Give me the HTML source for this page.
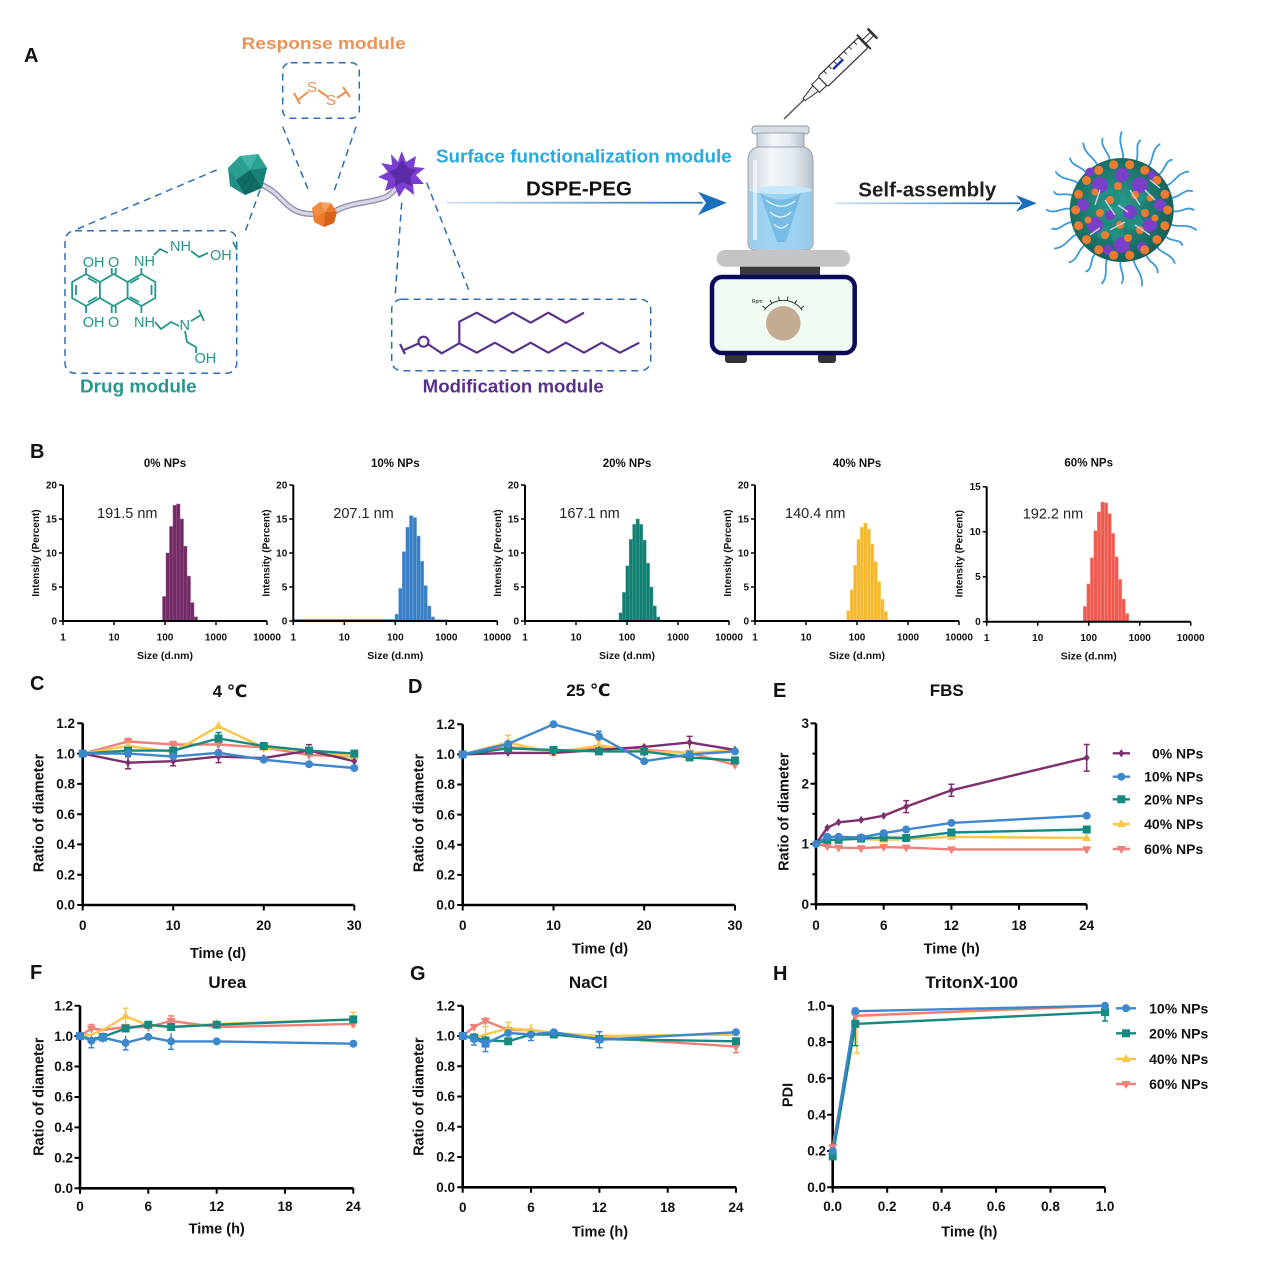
<!DOCTYPE html>
<html><head><meta charset="utf-8"><style>
html,body{margin:0;padding:0;background:#fff;}
svg{display:block;}
text{font-family:"Liberation Sans","DejaVu Sans",Arial,sans-serif;fill:#111;}
.b{font-weight:bold;}
.ax{fill:none;stroke:#000;stroke-width:2.6;}
.axb{fill:none;stroke:#000;stroke-width:2;}
.tk{stroke:#000;stroke-width:2;fill:none;}
.tkb{stroke:#000;stroke-width:1.5;fill:none;}
.ls{fill:none;stroke-width:2.4;stroke-linejoin:round;}
.s0{stroke:#7e2f6e}.s1{stroke:#3d87cc}.s2{stroke:#168a80}.s3{stroke:#f9c84a}.s4{stroke:#f08078}
.e{fill:none;stroke-width:1.5;}
.dash{fill:none;stroke:#2c6fb5;stroke-width:1.5;stroke-dasharray:7 5;}
.mol{fill:none;stroke:#22968a;stroke-width:1.8;stroke-linejoin:round;}
.mod{fill:none;stroke:#58318a;stroke-width:2.2;stroke-linejoin:round;}
</style></head><body>
<svg width="1268" height="1269" viewBox="0 0 1268 1269" xmlns="http://www.w3.org/2000/svg">
<defs>
<circle id="mc" r="4"/>
<rect id="ms" x="-4" y="-4" width="8" height="8"/>
<path id="mt" d="M0,-5 L4.6,3 L-4.6,3Z"/>
<path id="mv" d="M0,5 L4.6,-3 L-4.6,-3Z"/>
<path id="md" d="M0,-4 L3,0 L0,4 L-3,0Z"/>
<linearGradient id="ag" x1="0" x2="1" y1="0" y2="0"><stop offset="0" stop-color="#cfe2f2"/><stop offset="1" stop-color="#1a6fb8"/></linearGradient>
<linearGradient id="glass" x1="0" x2="1"><stop offset="0" stop-color="#c9d1da"/><stop offset=".35" stop-color="#f4f7fa"/><stop offset=".7" stop-color="#e3e9ef"/><stop offset="1" stop-color="#b7c1cc"/></linearGradient>
<radialGradient id="core" cx=".45" cy=".45" r=".6"><stop offset="0" stop-color="#2a9e90"/><stop offset="1" stop-color="#135c54"/></radialGradient>
</defs>
<rect width="1268" height="1269" fill="#fff"/>

<!-- ================= PANEL A ================= -->
<text x="24" y="62" class="b" font-size="20">A</text>
<text x="241.7" y="49" class="b" font-size="17" textLength="164" lengthAdjust="spacingAndGlyphs" style="fill:#ee9254">Response module</text>
<rect x="282.7" y="62.7" width="76.6" height="55.6" rx="8" class="dash"/>
<path d="M294,93 L300,104 M298,100 L308,92 M318,90 L328,97 M337,98 L346,92 M343,87 L350,97" stroke="#ee8f4c" stroke-width="2" fill="none"/>
<text x="307" y="92" font-size="15" style="fill:#ee8f4c">S</text>
<text x="326" y="105" font-size="15" style="fill:#ee8f4c">S</text>
<path d="M282.7,126.7 L308.3,190 M356,126.7 L333.3,193.3" class="dash"/>
<path d="M216.7,170 L75,230 M260,190 L245,232" class="dash"/>
<path d="M401.7,202.7 L395,298 M426.7,182.7 L470,293.3" class="dash"/>
<rect x="65" y="230.7" width="171.7" height="142.6" rx="10" class="dash"/>
<rect x="391.7" y="299.3" width="259" height="71.4" rx="10" class="dash"/>
<path d="M262,185 C285,195 285,214 312,214 M335,211 C355,201 368,204 386,197 C392,194 395,189 398,186" stroke="#8e8ea6" stroke-width="6" fill="none" stroke-linecap="round"/>
<path d="M262,185 C285,195 285,214 312,214 M335,211 C355,201 368,204 386,197 C392,194 395,189 398,186" stroke="#d6d6e6" stroke-width="3.4" fill="none" stroke-linecap="round"/>
<polygon points="228,168 240,156 258,154 267,168 262,188 245,195 230,186" fill="#1e8f84"/>
<polygon points="240,156 258,154 250,170" fill="#40b3a6"/>
<polygon points="258,154 267,168 250,170" fill="#2aa194"/>
<polygon points="228,168 240,156 250,170 236,180" fill="#2c9d91"/>
<polygon points="250,170 267,168 262,188" fill="#178277"/>
<polygon points="236,180 250,170 262,188 245,195" fill="#126b62"/>
<polygon points="312,208 320,202 331,203 337,212 334,223 324,227 314,222" fill="#ef7a2c"/>
<polygon points="320,202 331,203 325,212" fill="#f6a466"/>
<polygon points="312,208 320,202 325,212 316,217" fill="#f28b43"/>
<polygon points="325,212 337,212 334,223 324,227" fill="#d6621b"/>
<polygon points="401.7,151 406,162 416,156 414,167 425,168 416,175 424,184 413,184 414,195 405,188 399,197 395,187 385,191 388,181 378,177 388,172 381,163 392,165 391,154 398,162" fill="#7a3fd0"/>
<polygon points="401.7,160 408,168 416,170 410,177 412,186 403,182 395,186 395,178 389,172 397,168" fill="#5a2aa8"/>
<path class="mol" d="M86,274 L99.9,282 L99.9,298 L86,306 L72.1,298 L72.1,282 Z M99.9,282 L113.7,274 L127.6,282 L127.6,298 L113.7,306 L99.9,298 M127.6,282 L141.4,274 L155.3,282 L155.3,298 L141.4,306 L127.6,298"/>
<path class="mol" d="M76,285 L76,295 M151.5,285 L151.5,295 M88,278 L97,283 M88,302 L97,297 M130,283 L139,278 M130,297 L139,302"/>
<path class="mol" d="M86,274 V268 M111.7,274 V268 M115.7,274 V268 M141.4,274 V268 M86,306 V313 M111.7,306 V313 M115.7,306 V313 M141.4,306 V313"/>
<path class="mol" d="M154,255 L160,249 L168,253 M191,251 L199,257 L208,253 M155,322 L161,329 L171,322 L179,326 M191,321 L201,315 M199,310 L204,321 M185,331 L187,342 L196,347 V353 M233,242 L237,250"/>
<text x="82.7" y="267" font-size="14.5" style="fill:#22968a">OH</text>
<text x="108" y="267" font-size="14.5" style="fill:#22968a">O</text>
<text x="134" y="266" font-size="14.5" style="fill:#22968a">NH</text>
<text x="170" y="251" font-size="14.5" style="fill:#22968a">NH</text>
<text x="210" y="260" font-size="14.5" style="fill:#22968a">OH</text>
<text x="82.7" y="327" font-size="14.5" style="fill:#22968a">OH</text>
<text x="108" y="327" font-size="14.5" style="fill:#22968a">O</text>
<text x="134" y="327" font-size="14.5" style="fill:#22968a">NH</text>
<text x="179.5" y="330" font-size="14.5" style="fill:#22968a">N</text>
<text x="194.5" y="363" font-size="14.5" style="fill:#22968a">OH</text>
<text x="80" y="392.5" class="b" font-size="18" textLength="116.7" lengthAdjust="spacingAndGlyphs" style="fill:#25998c">Drug module</text>
<path class="mod" d="M400,344 L405,354 M404,350 L418.5,343.5 M428.5,344.5 L441.7,353.3 L459.3,343.3 L459.3,321.7 L476.7,312.7 L495,322.7 L512.7,312.7 L530.7,322.7 L548.3,312.7 L566,322.7 L584,312.7 M459.3,343.3 L476.7,352.7 L495,342.7 L512.7,352.7 L530.7,342.7 L548.3,352.7 L566,342.7 L584,352.7 L601.7,342.7 L620,352.7 L639.3,342.7"/>
<circle cx="423.5" cy="341.7" r="5" class="mod"/>
<text x="422.7" y="392.5" class="b" font-size="18" textLength="181" lengthAdjust="spacingAndGlyphs" style="fill:#58318a">Modification module</text>
<text x="436" y="162.5" class="b" font-size="18" textLength="295.7" lengthAdjust="spacingAndGlyphs" style="fill:#27a9e1">Surface functionalization module</text>
<text x="526" y="195.5" class="b" font-size="20" textLength="106" lengthAdjust="spacingAndGlyphs">DSPE-PEG</text>
<rect x="446.7" y="201.8" width="256" height="1.8" fill="url(#ag)"/>
<path d="M726.7,202.7 L698,191.7 L706,202.7 L698,215 Z" fill="#1a6fb8"/>
<g transform="translate(784,119) rotate(-44)">
<line x1="0" y1="0" x2="28" y2="0" stroke="#666" stroke-width="1.6"/>
<path d="M28,-1.5 L44,-4 L44,4 L28,1.5Z" fill="#f4f4f4" stroke="#333" stroke-width="1"/>
<rect x="44" y="-5.5" width="10" height="11" fill="#fff" stroke="#333" stroke-width="1"/>
<rect x="54" y="-7" width="56" height="14" rx="2" fill="#fff" stroke="#333" stroke-width="1.2"/>
<path d="M62,-7 V-3 M69,-7 V-3 M76,-7 V-3 M83,-7 V-3 M90,-7 V-3 M97,-7 V-3 M104,-7 V-3" stroke="#333" stroke-width="1"/>
<rect x="70" y="-3" width="14" height="2.5" fill="#1c2fc0"/>
<rect x="110" y="-2.5" width="12" height="5" fill="#fff" stroke="#333" stroke-width="1"/>
<line x1="111" y1="-10" x2="111" y2="10" stroke="#333" stroke-width="2"/>
<line x1="123" y1="-7" x2="123" y2="7" stroke="#333" stroke-width="2.5"/>
</g>
<rect x="752" y="126" width="57" height="8" rx="3" fill="#d8dde3" stroke="#8f98a3"/>
<rect x="757" y="133" width="47" height="14" fill="url(#glass)" stroke="#9aa3ad"/>
<path d="M757,147 Q748,150 748,160 V243 Q748,250 756,250 H805 Q813,250 813,243 V160 Q813,150 804,147 Z" fill="url(#glass)" stroke="#9aa3ad"/>
<path d="M749,190 V243 Q749,249 756,249 H805 Q812,249 812,243 V190 Z" fill="#8fcdf0" opacity=".85"/>
<ellipse cx="780.5" cy="190" rx="31.5" ry="4" fill="#c6e8f8"/>
<path d="M760,193 Q780,206 801,193 L786,242 L777,242 Z" fill="#5aa9dc" opacity=".55"/>
<path d="M766,200 Q781,212 795,201 M770,212 Q781,222 791,212 M774,224 Q781,232 788,224" stroke="#e8f6ff" stroke-width="1.3" fill="none"/>
<rect x="753" y="160" width="4" height="80" fill="#fff" opacity=".6"/>
<rect x="716.7" y="250" width="133.3" height="16.7" rx="8" fill="#c4c4c4"/>
<rect x="740" y="266.7" width="80" height="8.3" fill="#3a3a3a"/>
<rect x="725" y="352" width="22" height="11" rx="3" fill="#333"/>
<rect x="818" y="352" width="18" height="11" rx="3" fill="#333"/>
<rect x="712" y="277" width="142.7" height="76" rx="10" fill="#f1fbf1" stroke="#0a0a5a" stroke-width="4.5"/>
<circle cx="783.3" cy="323.3" r="17.3" fill="#c4ac94"/>
<path d="M764.5,310.1 A23,23 0 0 1 802.1,310.1" stroke="#222" stroke-width=".9" fill="none"/>
<path d="M765.7,308.5 L762.6,306 M771.8,303.4 L769.8,300 M779.3,300.7 L778.6,296.7 M787.3,300.7 L788,296.7 M794.8,303.4 L796.8,300 M800.9,308.5 L804,306" stroke="#222" stroke-width=".9"/>
<text x="752" y="303" font-size="5">Rpm</text>
<text x="858.3" y="196.3" class="b" font-size="20" textLength="138" lengthAdjust="spacingAndGlyphs" style="fill:#231f20">Self-assembly</text>
<rect x="835" y="202.4" width="185" height="1.8" fill="url(#ag)"/>
<path d="M1036.7,203.3 L1016,195 L1022,203.3 L1016,211.7 Z" fill="#1a6fb8"/>
<!-- nanoparticle -->
<g fill="none" stroke="#3a9ad9" stroke-width="1.8" stroke-linecap="round">
<path d="M1169.7,210 C1178.7,215 1186.7,205 1193.7,210"/>
<path d="M1168.1,222.4 C1175.5,229.6 1185.8,222 1196.1,229.9"/>
<path d="M1163.3,234 C1168.6,242.8 1180.5,238.2 1182.3,245"/>
<path d="M1155.6,243.9 C1158.5,253.8 1171.2,252.5 1174.7,263"/>
<path d="M1145.7,251.6 C1145.9,261.9 1158.5,263.8 1157.7,272.4"/>
<path d="M1134.1,256.4 C1131.7,266.4 1143.3,271.5 1141.9,285.3"/>
<path d="M1121.7,258 C1116.7,267 1126.7,275 1121.7,283"/>
<path d="M1109.3,256.4 C1102.1,263.8 1109.7,274.1 1102,283.4"/>
<path d="M1097.7,251.6 C1088.9,256.9 1093.5,268.8 1086.2,271.5"/>
<path d="M1087.8,243.9 C1077.9,246.8 1079.2,259.5 1069.4,262.3"/>
<path d="M1080.1,234 C1069.8,234.2 1067.9,246.8 1055,248.5"/>
<path d="M1075.3,222.4 C1065.3,220 1060.2,231.6 1052.1,228.6"/>
<path d="M1073.7,210 C1064.7,205 1056.7,215 1046.7,210"/>
<path d="M1075.3,197.6 C1067.9,190.4 1057.6,198 1054.1,191.9"/>
<path d="M1080.1,186 C1074.8,177.2 1062.9,181.8 1055.9,172"/>
<path d="M1087.8,176.1 C1084.9,166.2 1072.2,167.5 1070.1,158.4"/>
<path d="M1097.7,168.4 C1097.5,158.1 1084.9,156.2 1083.2,143.3"/>
<path d="M1109.3,163.6 C1111.7,153.6 1100.1,148.5 1102.5,138.5"/>
<path d="M1121.7,162 C1126.7,153 1116.7,145 1121.7,132"/>
<path d="M1134.1,163.6 C1141.3,156.2 1133.7,145.9 1140.3,140.4"/>
<path d="M1145.7,168.4 C1154.5,163.1 1149.9,151.2 1159.7,144.2"/>
<path d="M1155.6,176.1 C1165.5,173.2 1164.2,160.5 1171.9,159.8"/>
<path d="M1163.3,186 C1173.6,185.8 1175.5,173.2 1188.4,171.5"/>
<path d="M1168.1,197.6 C1178.1,200 1183.2,188.4 1192.2,191.1"/>
</g>
<circle cx="1121.7" cy="210" r="52" fill="url(#core)"/>
<g fill="#1f8f82">
<polygon points="1105,195 1115,190 1122,198 1116,208 1106,206"/>
<polygon points="1128,218 1138,214 1144,222 1138,231 1128,228"/>
<polygon points="1098,228 1108,224 1113,233 1106,240 1097,237"/>
<polygon points="1135,188 1145,186 1150,195 1143,202 1134,199"/>
<polygon points="1112,232 1120,229 1126,236 1120,243 1112,240"/>
</g>
<g fill="#7a3fc8">
<circle cx="1100" cy="185" r="8"/><circle cx="1140" cy="185" r="8"/><circle cx="1095" cy="225" r="8"/><circle cx="1150" cy="225" r="7"/><circle cx="1122" cy="245" r="8"/><circle cx="1122" cy="175" r="7"/><circle cx="1083" cy="205" r="6"/><circle cx="1160" cy="205" r="6"/><circle cx="1130" cy="212" r="7"/><circle cx="1108" cy="250" r="5"/><circle cx="1142" cy="247" r="5"/><circle cx="1110" cy="215" r="5"/><circle cx="1152" cy="175" r="4.5"/><circle cx="1090" cy="172" r="4.5"/>
</g>
<g fill="#f07a30">
<circle cx="1167.7" cy="210" r="4.5"/><circle cx="1164.9" cy="225.7" r="4.5"/><circle cx="1156.9" cy="239.6" r="4.5"/><circle cx="1144.7" cy="249.8" r="4.5"/><circle cx="1129.7" cy="255.3" r="4.5"/><circle cx="1113.7" cy="255.3" r="4.5"/><circle cx="1098.7" cy="249.8" r="4.5"/><circle cx="1086.5" cy="239.6" r="4.5"/><circle cx="1078.5" cy="225.7" r="4.5"/><circle cx="1075.7" cy="210" r="4.5"/><circle cx="1078.5" cy="194.3" r="4.5"/><circle cx="1086.5" cy="180.4" r="4.5"/><circle cx="1098.7" cy="170.2" r="4.5"/><circle cx="1113.7" cy="164.7" r="4.5"/><circle cx="1129.7" cy="164.7" r="4.5"/><circle cx="1144.7" cy="170.2" r="4.5"/><circle cx="1156.9" cy="180.4" r="4.5"/><circle cx="1164.9" cy="194.3" r="4.5"/>
<circle cx="1110" cy="200" r="4"/><circle cx="1135" cy="195" r="4"/><circle cx="1120" cy="225" r="4"/><circle cx="1100" cy="213" r="4"/><circle cx="1145" cy="213" r="4"/><circle cx="1128" cy="238" r="4"/><circle cx="1105" cy="235" r="4"/><circle cx="1140" cy="230" r="4"/><circle cx="1118" cy="186" r="4"/><circle cx="1095" cy="192" r="3.5"/><circle cx="1150" cy="198" r="3.5"/><circle cx="1088" cy="220" r="3.5"/><circle cx="1155" cy="218" r="3.5"/>
</g>
<path d="M1105,200 L1115,215 M1130,190 L1140,205 M1110,230 L1125,222 M1135,225 L1150,235 M1095,205 L1100,190 M1145,190 L1155,200 M1118,205 L1128,212 M1090,235 L1100,228 M1150,180 L1160,188" stroke="#cfcfe0" stroke-width="1.4"/>

<!-- ================= PANEL B ================= -->
<text x="30" y="458" class="b" font-size="20">B</text>
<g transform="translate(63,621)">
<text x="102" y="-154" class="b" font-size="11.5" text-anchor="middle">0% NPs</text>
<g fill="#722a66" stroke="#9a5a8e" stroke-width=".5">
<rect x="99.5" y="-24.5" width="3.5" height="24.5"/><rect x="103" y="-68" width="3.5" height="68"/><rect x="106.5" y="-94.5" width="3.5" height="94.5"/><rect x="110" y="-115.6" width="3.5" height="115.6"/><rect x="113.5" y="-117" width="3.5" height="117"/><rect x="117" y="-102" width="3.5" height="102"/><rect x="120.5" y="-74.8" width="3.5" height="74.8"/><rect x="124" y="-44.9" width="3.5" height="44.9"/><rect x="127.5" y="-18.4" width="3.5" height="18.4"/><rect x="131" y="-4.1" width="3.5" height="4.1"/>
</g>
<path d="M0,-136 V0 H204" class="axb"/>
<path d="M-4,-136H0M-4,-102H0M-4,-68H0M-4,-34H0M-4,0H0M0,0V4M51,0V4M102,0V4M153,0V4M204,0V4" class="tkb"/>
<g class="b" font-size="10" text-anchor="end"><text x="-6" y="-132.5">20</text><text x="-6" y="-98.5">15</text><text x="-6" y="-64.5">10</text><text x="-6" y="-30.5">5</text><text x="-6" y="3.5">0</text></g>
<g class="b" font-size="10" text-anchor="middle"><text x="0" y="19.5">1</text><text x="51" y="19.5">10</text><text x="102" y="19.5">100</text><text x="153" y="19.5">1000</text><text x="204" y="19.5">10000</text></g>
<text x="102" y="38" class="b" font-size="10.5" text-anchor="middle">Size (d.nm)</text>
<text transform="translate(-24,-68) rotate(-90)" class="b" font-size="10" text-anchor="middle">Intensity (Percent)</text>
<text x="34" y="-103" font-size="14.5" style="fill:#222">191.5 nm</text>
</g>
<g transform="translate(293.3,621)">
<text x="102" y="-154" class="b" font-size="11.5" text-anchor="middle">10% NPs</text>
<rect x="0" y="-1.8" width="102" height="1.8" fill="#3a7fc5"/>
<rect x="141" y="-1.4" width="14" height="1.4" fill="#3a7fc5"/>
<g fill="#3a7fc5" stroke="#7fb0e0" stroke-width=".5">
<rect x="101.7" y="-6.8" width="3.6" height="6.8"/><rect x="105.3" y="-32.6" width="3.6" height="32.6"/><rect x="108.9" y="-69.4" width="3.6" height="69.4"/><rect x="112.5" y="-93.8" width="3.6" height="93.8"/><rect x="116.1" y="-105.4" width="3.6" height="105.4"/><rect x="119.7" y="-103.4" width="3.6" height="103.4"/><rect x="123.3" y="-85" width="3.6" height="85"/><rect x="126.9" y="-59.8" width="3.6" height="59.8"/><rect x="130.5" y="-35.4" width="3.6" height="35.4"/><rect x="134.1" y="-15" width="3.6" height="15"/><rect x="137.7" y="-4.1" width="3.6" height="4.1"/>
</g>
<path d="M0,-136 V0 H204" class="axb"/>
<path d="M-4,-136H0M-4,-102H0M-4,-68H0M-4,-34H0M-4,0H0M0,0V4M51,0V4M102,0V4M153,0V4M204,0V4" class="tkb"/>
<g class="b" font-size="10" text-anchor="end"><text x="-6" y="-132.5">20</text><text x="-6" y="-98.5">15</text><text x="-6" y="-64.5">10</text><text x="-6" y="-30.5">5</text><text x="-6" y="3.5">0</text></g>
<g class="b" font-size="10" text-anchor="middle"><text x="0" y="19.5">1</text><text x="51" y="19.5">10</text><text x="102" y="19.5">100</text><text x="153" y="19.5">1000</text><text x="204" y="19.5">10000</text></g>
<text x="102" y="38" class="b" font-size="10.5" text-anchor="middle">Size (d.nm)</text>
<text transform="translate(-24,-68) rotate(-90)" class="b" font-size="10" text-anchor="middle">Intensity (Percent)</text>
<text x="40" y="-103" font-size="14.5" style="fill:#222">207.1 nm</text>
</g>
<g transform="translate(525,621)">
<text x="102" y="-154" class="b" font-size="11.5" text-anchor="middle">20% NPs</text>
<g fill="#137d72" stroke="#4aa89d" stroke-width=".5">
<rect x="94" y="-8.2" width="3.4" height="8.2"/><rect x="97.4" y="-28.6" width="3.4" height="28.6"/><rect x="100.8" y="-55.1" width="3.4" height="55.1"/><rect x="104.2" y="-81.6" width="3.4" height="81.6"/><rect x="107.6" y="-96.6" width="3.4" height="96.6"/><rect x="111" y="-102" width="3.4" height="102"/><rect x="114.4" y="-96.6" width="3.4" height="96.6"/><rect x="117.8" y="-80.9" width="3.4" height="80.9"/><rect x="121.2" y="-57.8" width="3.4" height="57.8"/><rect x="124.6" y="-34" width="3.4" height="34"/><rect x="128" y="-15" width="3.4" height="15"/><rect x="131.4" y="-4.1" width="3.4" height="4.1"/>
</g>
<path d="M0,-136 V0 H204" class="axb"/>
<path d="M-4,-136H0M-4,-102H0M-4,-68H0M-4,-34H0M-4,0H0M0,0V4M51,0V4M102,0V4M153,0V4M204,0V4" class="tkb"/>
<g class="b" font-size="10" text-anchor="end"><text x="-6" y="-132.5">20</text><text x="-6" y="-98.5">15</text><text x="-6" y="-64.5">10</text><text x="-6" y="-30.5">5</text><text x="-6" y="3.5">0</text></g>
<g class="b" font-size="10" text-anchor="middle"><text x="0" y="19.5">1</text><text x="51" y="19.5">10</text><text x="102" y="19.5">100</text><text x="153" y="19.5">1000</text><text x="204" y="19.5">10000</text></g>
<text x="102" y="38" class="b" font-size="10.5" text-anchor="middle">Size (d.nm)</text>
<text transform="translate(-24,-68) rotate(-90)" class="b" font-size="10" text-anchor="middle">Intensity (Percent)</text>
<text x="34.3" y="-103" font-size="14.5" style="fill:#222">167.1 nm</text>
</g>
<g transform="translate(755,621)">
<text x="102" y="-154" class="b" font-size="11.5" text-anchor="middle">40% NPs</text>
<g fill="#f5b82a" stroke="#fad37a" stroke-width=".6">
<rect x="91.7" y="-10.2" width="3.4" height="10.2"/><rect x="95.1" y="-31.3" width="3.4" height="31.3"/><rect x="98.5" y="-55.8" width="3.4" height="55.8"/><rect x="101.9" y="-81.6" width="3.4" height="81.6"/><rect x="105.3" y="-93.8" width="3.4" height="93.8"/><rect x="108.7" y="-97.9" width="3.4" height="97.9"/><rect x="112.1" y="-91.8" width="3.4" height="91.8"/><rect x="115.5" y="-76.8" width="3.4" height="76.8"/><rect x="118.9" y="-59.2" width="3.4" height="59.2"/><rect x="122.3" y="-39.4" width="3.4" height="39.4"/><rect x="125.7" y="-21.8" width="3.4" height="21.8"/><rect x="129.1" y="-9.5" width="3.4" height="9.5"/><rect x="132.5" y="-1.4" width="3.4" height="1.4"/>
</g>
<path d="M0,-136 V0 H204" class="axb"/>
<path d="M-4,-136H0M-4,-102H0M-4,-68H0M-4,-34H0M-4,0H0M0,0V4M51,0V4M102,0V4M153,0V4M204,0V4" class="tkb"/>
<g class="b" font-size="10" text-anchor="end"><text x="-6" y="-132.5">20</text><text x="-6" y="-98.5">15</text><text x="-6" y="-64.5">10</text><text x="-6" y="-30.5">5</text><text x="-6" y="3.5">0</text></g>
<g class="b" font-size="10" text-anchor="middle"><text x="0" y="19.5">1</text><text x="51" y="19.5">10</text><text x="102" y="19.5">100</text><text x="153" y="19.5">1000</text><text x="204" y="19.5">10000</text></g>
<text x="102" y="38" class="b" font-size="10.5" text-anchor="middle">Size (d.nm)</text>
<text transform="translate(-24,-68) rotate(-90)" class="b" font-size="10" text-anchor="middle">Intensity (Percent)</text>
<text x="30" y="-103" font-size="14.5" style="fill:#222">140.4 nm</text>
</g>
<g transform="translate(986.7,621.7)">
<text x="102" y="-155" class="b" font-size="11.5" text-anchor="middle">60% NPs</text>
<g fill="#ef5a4f" stroke="#f69a92" stroke-width=".6">
<rect x="96.6" y="-15.3" width="3.5" height="15.3"/><rect x="100.1" y="-37.8" width="3.5" height="37.8"/><rect x="103.6" y="-63.9" width="3.5" height="63.9"/><rect x="107.1" y="-90.9" width="3.5" height="90.9"/><rect x="110.6" y="-109.8" width="3.5" height="109.8"/><rect x="114.1" y="-119.7" width="3.5" height="119.7"/><rect x="117.6" y="-118.8" width="3.5" height="118.8"/><rect x="121.1" y="-108" width="3.5" height="108"/><rect x="124.6" y="-88.2" width="3.5" height="88.2"/><rect x="128.1" y="-64.8" width="3.5" height="64.8"/><rect x="131.6" y="-42.3" width="3.5" height="42.3"/><rect x="135.1" y="-22.5" width="3.5" height="22.5"/><rect x="138.6" y="-8.1" width="3.5" height="8.1"/>
</g>
<path d="M0,-135 V0 H204" class="axb"/>
<path d="M-4,-135H0M-4,-90H0M-4,-45H0M-4,0H0M0,0V4M51,0V4M102,0V4M153,0V4M204,0V4" class="tkb"/>
<g class="b" font-size="10" text-anchor="end"><text x="-6" y="-131.5">15</text><text x="-6" y="-86.5">10</text><text x="-6" y="-41.5">5</text><text x="-6" y="3.5">0</text></g>
<g class="b" font-size="10" text-anchor="middle"><text x="0" y="19.5">1</text><text x="51" y="19.5">10</text><text x="102" y="19.5">100</text><text x="153" y="19.5">1000</text><text x="204" y="19.5">10000</text></g>
<text x="102" y="38" class="b" font-size="10.5" text-anchor="middle">Size (d.nm)</text>
<text transform="translate(-24,-68) rotate(-90)" class="b" font-size="10" text-anchor="middle">Intensity (Percent)</text>
<text x="36" y="-103" font-size="14.5" style="fill:#222">192.2 nm</text>
</g>

<!-- ================= PANEL C ================= -->
<text x="30" y="690" class="b" font-size="20">C</text>
<text x="230" y="697" class="b" font-size="17" text-anchor="middle">4 ℃</text>
<path d="M82.7,723.3 V905 H354.3" class="ax"/>
<path d="M77.2,723.3H82.7M77.2,753.6H82.7M77.2,783.9H82.7M77.2,814.2H82.7M77.2,844.4H82.7M77.2,874.7H82.7M77.2,905H82.7M82.7,905V910.5M173.2,905V910.5M263.8,905V910.5M354.3,905V910.5" class="tk"/>
<g class="b" font-size="13.5" text-anchor="end"><text x="75" y="728">1.2</text><text x="75" y="758.3">1.0</text><text x="75" y="788.6">0.8</text><text x="75" y="818.9">0.6</text><text x="75" y="849.1">0.4</text><text x="75" y="879.4">0.2</text><text x="75" y="909.7">0.0</text></g>
<g class="b" font-size="13.5" text-anchor="middle"><text x="82.7" y="930">0</text><text x="173.2" y="930">10</text><text x="263.8" y="930">20</text><text x="354.3" y="930">30</text></g>
<text x="218" y="958" class="b" font-size="14.5" text-anchor="middle">Time (d)</text>
<text transform="translate(43.5,813) rotate(-90)" class="b" font-size="14.5" text-anchor="middle">Ratio of diameter</text>
<path class="e s0" d="M128,756.7V768.7M125,756.7h6M125,768.7h6M173.2,756.7V765.7M170.2,756.7h6M170.2,765.7h6M218.5,750.6V762.6M215.5,762.6h6M309,744.6V756.6M306,744.6h6"/>
<path class="e s2" d="M218.5,732.5V744.5M215.5,732.5h6"/>
<path class="e s4" d="M128,738.5V744.5M125,738.5h6M173.2,741.5V747.5M170.2,741.5h6"/>
<polyline class="ls s4" points="82.7,753.6 128,741.5 173.2,744.5 218.5,744.5 263.8,747.5 309,755.1 354.3,756.6"/>
<polyline class="ls s3" points="82.7,753.6 128,746 173.2,752.1 218.5,726.3 263.8,747.5 309,750.6 354.3,756.6"/>
<polyline class="ls s0" points="82.7,753.6 128,762.7 173.2,761.2 218.5,756.6 263.8,758.1 309,750.6 354.3,761.2"/>
<polyline class="ls s2" points="82.7,753.6 128,750.6 173.2,750.6 218.5,738.5 263.8,746 309,750.6 354.3,753.6"/>
<polyline class="ls s1" points="82.7,753.6 128,753.6 173.2,756.6 218.5,752.8 263.8,759.7 309,764.2 354.3,768"/>
<g fill="#f08078"><use href="#mv" x="128" y="741.5"/><use href="#mv" x="173.2" y="744.5"/><use href="#mv" x="218.5" y="744.5"/><use href="#mv" x="263.8" y="747.5"/><use href="#mv" x="309" y="755.1"/><use href="#mv" x="354.3" y="756.6"/></g>
<g fill="#f9c84a"><use href="#mt" x="128" y="746"/><use href="#mt" x="173.2" y="752.1"/><use href="#mt" x="218.5" y="726.3"/><use href="#mt" x="263.8" y="747.5"/><use href="#mt" x="309" y="750.6"/><use href="#mt" x="354.3" y="756.6"/></g>
<g fill="#7e2f6e"><use href="#md" x="128" y="762.7"/><use href="#md" x="173.2" y="761.2"/><use href="#md" x="218.5" y="756.6"/><use href="#md" x="263.8" y="758.1"/><use href="#md" x="309" y="750.6"/><use href="#md" x="354.3" y="761.2"/></g>
<g fill="#168a80"><use href="#ms" x="128" y="750.6"/><use href="#ms" x="173.2" y="750.6"/><use href="#ms" x="218.5" y="738.5"/><use href="#ms" x="263.8" y="746"/><use href="#ms" x="309" y="750.6"/><use href="#ms" x="354.3" y="753.6"/></g>
<g fill="#3d87cc"><use href="#ms" x="82.7" y="753.6"/><use href="#mc" x="128" y="753.6"/><use href="#mc" x="173.2" y="756.6"/><use href="#mc" x="218.5" y="752.8"/><use href="#mc" x="263.8" y="759.7"/><use href="#mc" x="309" y="764.2"/><use href="#mc" x="354.3" y="768"/></g>

<!-- ================= PANEL D ================= -->
<text x="408" y="693" class="b" font-size="20">D</text>
<text x="588.3" y="696" class="b" font-size="17" text-anchor="middle">25 ℃</text>
<path d="M462.7,724.3 V905 H735" class="ax"/>
<path d="M457.2,724.3H462.7M457.2,754.4H462.7M457.2,784.5H462.7M457.2,814.6H462.7M457.2,844.8H462.7M457.2,874.9H462.7M457.2,905H462.7M462.7,905V910.5M553.5,905V910.5M644.2,905V910.5M735,905V910.5" class="tk"/>
<g class="b" font-size="13.5" text-anchor="end"><text x="455" y="729">1.2</text><text x="455" y="759.1">1.0</text><text x="455" y="789.2">0.8</text><text x="455" y="819.3">0.6</text><text x="455" y="849.5">0.4</text><text x="455" y="879.6">0.2</text><text x="455" y="909.7">0.0</text></g>
<g class="b" font-size="13.5" text-anchor="middle"><text x="462.7" y="930">0</text><text x="553.5" y="930">10</text><text x="644.2" y="930">20</text><text x="735" y="930">30</text></g>
<text x="600" y="953.5" class="b" font-size="14.5" text-anchor="middle">Time (d)</text>
<text transform="translate(423.5,813) rotate(-90)" class="b" font-size="14.5" text-anchor="middle">Ratio of diameter</text>
<path class="e s0" d="M689.6,736.4V748.4M686.6,736.4h6"/>
<path class="e s3" d="M508.1,735.4V749.4M505.1,735.4h6M598.9,740.4V750.4M595.9,740.4h6"/>
<path class="e s1" d="M508.1,739.4V748.4M505.1,748.4h6M598.9,731.3V741.3M595.9,731.3h6M689.6,749.4V759.4"/>
<path class="e s2" d="M644.2,746.4V756.4M641.2,746.4h6"/>
<polyline class="ls s4" points="462.7,754.4 508.1,746.9 553.5,751.4 598.9,748.4 644.2,749.9 689.6,752.9 735,764.9"/>
<polyline class="ls s3" points="462.7,754.4 508.1,742.4 553.5,752.9 598.9,745.4 644.2,751.4 689.6,752.9 735,749.9"/>
<polyline class="ls s0" points="462.7,754.4 508.1,752.9 553.5,752.9 598.9,749.9 644.2,746.9 689.6,742.4 735,749.9"/>
<polyline class="ls s2" points="462.7,754.4 508.1,748.4 553.5,749.9 598.9,751.4 644.2,751.4 689.6,757.4 735,760.4"/>
<polyline class="ls s1" points="462.7,754.4 508.1,743.9 553.5,724.3 598.9,736.3 644.2,761.2 689.6,754.4 735,751.4"/>
<g fill="#f08078"><use href="#mv" x="508.1" y="746.9"/><use href="#mv" x="553.5" y="751.4"/><use href="#mv" x="598.9" y="748.4"/><use href="#mv" x="644.2" y="749.9"/><use href="#mv" x="689.6" y="752.9"/><use href="#mv" x="735" y="764.9"/></g>
<g fill="#f9c84a"><use href="#mt" x="508.1" y="742.4"/><use href="#mt" x="553.5" y="752.9"/><use href="#mt" x="598.9" y="745.4"/><use href="#mt" x="644.2" y="751.4"/><use href="#mt" x="689.6" y="752.9"/><use href="#mt" x="735" y="749.9"/></g>
<g fill="#7e2f6e"><use href="#md" x="508.1" y="752.9"/><use href="#md" x="553.5" y="752.9"/><use href="#md" x="598.9" y="749.9"/><use href="#md" x="644.2" y="746.9"/><use href="#md" x="689.6" y="742.4"/><use href="#md" x="735" y="749.9"/></g>
<g fill="#168a80"><use href="#ms" x="508.1" y="748.4"/><use href="#ms" x="553.5" y="749.9"/><use href="#ms" x="598.9" y="751.4"/><use href="#ms" x="644.2" y="751.4"/><use href="#ms" x="689.6" y="757.4"/><use href="#ms" x="735" y="760.4"/></g>
<g fill="#3d87cc"><use href="#ms" x="462.7" y="754.4"/><use href="#mc" x="508.1" y="743.9"/><use href="#mc" x="553.5" y="724.3"/><use href="#mc" x="598.9" y="736.3"/><use href="#mc" x="644.2" y="761.2"/><use href="#mc" x="689.6" y="754.4"/><use href="#mc" x="735" y="751.4"/></g>

<!-- ================= PANEL E ================= -->
<text x="773" y="697" class="b" font-size="20">E</text>
<text x="946.7" y="696" class="b" font-size="17" text-anchor="middle">FBS</text>
<path d="M816,723.4 V904.3 H1086.7" class="ax"/>
<path d="M810.5,723.4H816M810.5,783.7H816M810.5,844H816M810.5,904.3H816M812.5,753.6H816M812.5,813.9H816M812.5,874.2H816M816,904.3V909.8M883.7,904.3V909.8M951.4,904.3V909.8M1019,904.3V909.8M1086.7,904.3V909.8" class="tk"/>
<g class="b" font-size="13.5" text-anchor="end"><text x="809" y="728.1">3</text><text x="809" y="788.4">2</text><text x="809" y="848.7">1</text><text x="809" y="909">0</text></g>
<g class="b" font-size="13.5" text-anchor="middle"><text x="816" y="930">0</text><text x="883.7" y="930">6</text><text x="951.4" y="930">12</text><text x="1019" y="930">18</text><text x="1086.7" y="930">24</text></g>
<text x="951.7" y="953.5" class="b" font-size="14.5" text-anchor="middle">Time (h)</text>
<text transform="translate(788.5,811.7) rotate(-90)" class="b" font-size="14.5" text-anchor="middle">Ratio of diameter</text>
<path class="e s0" d="M906.2,800.6V812.6M903.2,800.6h6M903.2,812.6h6M951.4,784.3V796.3M948.4,784.3h6M948.4,796.3h6M1086.7,744.5V771.1M1083.7,744.5h6M1083.7,771.1h6"/>
<polyline class="ls s4" points="816,844 827.3,846.4 838.6,847.6 861.1,848.2 883.7,847 906.2,847.6 951.4,849.4 1086.7,849.4"/>
<polyline class="ls s3" points="816,844 827.3,841 838.6,839.2 861.1,839.2 883.7,839.8 906.2,839.2 951.4,836.8 1086.7,838"/>
<polyline class="ls s2" points="816,844 827.3,839.8 838.6,839.8 861.1,838.6 883.7,837.4 906.2,838 951.4,832.5 1086.7,829.5"/>
<polyline class="ls s1" points="816,844 827.3,836.8 838.6,836.8 861.1,837.4 883.7,833.1 906.2,829.5 951.4,822.9 1086.7,815.7"/>
<polyline class="ls s0" points="816,844 827.3,827.7 838.6,822.3 861.1,819.9 883.7,815.7 906.2,806.6 951.4,790.3 1086.7,757.8"/>
<g fill="#f08078"><use href="#mv" x="827.3" y="846.4"/><use href="#mv" x="838.6" y="847.6"/><use href="#mv" x="861.1" y="848.2"/><use href="#mv" x="883.7" y="847"/><use href="#mv" x="906.2" y="847.6"/><use href="#mv" x="951.4" y="849.4"/><use href="#mv" x="1086.7" y="849.4"/></g>
<g fill="#f9c84a"><use href="#mt" x="883.7" y="839.8"/><use href="#mt" x="951.4" y="836.8"/><use href="#mt" x="1086.7" y="838"/></g>
<g fill="#168a80"><use href="#ms" x="827.3" y="839.8"/><use href="#ms" x="838.6" y="839.8"/><use href="#ms" x="861.1" y="838.6"/><use href="#ms" x="883.7" y="837.4"/><use href="#ms" x="906.2" y="838"/><use href="#ms" x="951.4" y="832.5"/><use href="#ms" x="1086.7" y="829.5"/></g>
<g fill="#3d87cc"><use href="#mc" x="816" y="844"/><use href="#mc" x="827.3" y="836.8"/><use href="#mc" x="838.6" y="836.8"/><use href="#mc" x="861.1" y="837.4"/><use href="#mc" x="883.7" y="833.1"/><use href="#mc" x="906.2" y="829.5"/><use href="#mc" x="951.4" y="822.9"/><use href="#mc" x="1086.7" y="815.7"/></g>
<g fill="#7e2f6e"><use href="#md" x="827.3" y="827.7"/><use href="#md" x="838.6" y="822.3"/><use href="#md" x="861.1" y="819.9"/><use href="#md" x="883.7" y="815.7"/><use href="#md" x="906.2" y="806.6"/><use href="#md" x="951.4" y="790.3"/><use href="#md" x="1086.7" y="757.8"/></g>
<path class="ls s0" d="M1112.7,753.3H1130"/><use href="#md" x="1121.3" y="753.3" fill="#7e2f6e"/>
<path class="ls s1" d="M1112.7,776.7H1130"/><use href="#mc" x="1121.3" y="776.7" fill="#3d87cc"/>
<path class="ls s2" d="M1112.7,799.3H1130"/><use href="#ms" x="1121.3" y="799.3" fill="#168a80"/>
<path class="ls s3" d="M1112.7,824H1130"/><use href="#mt" x="1121.3" y="824" fill="#f9c84a"/>
<path class="ls s4" d="M1112.7,849H1130"/><use href="#mv" x="1121.3" y="849" fill="#f08078"/>
<g class="b" font-size="14" text-anchor="end"><text x="1203.3" y="758.3">0% NPs</text><text x="1203.3" y="781.7">10% NPs</text><text x="1203.3" y="804.3">20% NPs</text><text x="1203.3" y="829">40% NPs</text><text x="1203.3" y="854">60% NPs</text></g>

<!-- ================= PANEL F ================= -->
<text x="30" y="979" class="b" font-size="20">F</text>
<text x="227.3" y="988" class="b" font-size="17" text-anchor="middle">Urea</text>
<path d="M80,1005.7 V1188.3 H353.3" class="ax"/>
<path d="M74.5,1005.7H80M74.5,1036.1H80M74.5,1066.5H80M74.5,1097H80M74.5,1127.4H80M74.5,1157.9H80M74.5,1188.3H80M80,1188.3V1193.8M148.3,1188.3V1193.8M216.7,1188.3V1193.8M285,1188.3V1193.8M353.3,1188.3V1193.8" class="tk"/>
<g class="b" font-size="13.5" text-anchor="end"><text x="73" y="1010.4">1.2</text><text x="73" y="1040.8">1.0</text><text x="73" y="1071.2">0.8</text><text x="73" y="1101.7">0.6</text><text x="73" y="1132.1">0.4</text><text x="73" y="1162.6">0.2</text><text x="73" y="1193">0.0</text></g>
<g class="b" font-size="13.5" text-anchor="middle"><text x="80" y="1211">0</text><text x="148.3" y="1211">6</text><text x="216.7" y="1211">12</text><text x="285" y="1211">18</text><text x="353.3" y="1211">24</text></g>
<text x="216.7" y="1233.5" class="b" font-size="14.5" text-anchor="middle">Time (h)</text>
<text transform="translate(43.5,1096.7) rotate(-90)" class="b" font-size="14.5" text-anchor="middle">Ratio of diameter</text>
<path class="e s3" d="M125.6,1008.3V1024.3M122.6,1008.3h6M353.3,1012.4V1026.4M350.3,1012.4h6M350.3,1026.4h6"/>
<path class="e s4" d="M171.1,1015.9V1025.9M168.1,1015.9h6M91.4,1024.5V1032.5M88.4,1024.5h6"/>
<path class="e s1" d="M91.4,1033.7V1047.7M88.4,1047.7h6M125.6,1035.9V1049.9M122.6,1049.9h6M171.1,1033.4V1049.4M168.1,1049.4h6M102.8,1032.6V1042.6"/>
<polyline class="ls s4" points="80,1036.1 91.4,1028.5 102.8,1030 125.6,1027 148.3,1027 171.1,1020.9 216.7,1027 353.3,1023.9"/>
<polyline class="ls s3" points="80,1036.1 91.4,1034.6 102.8,1030 125.6,1016.3 148.3,1025.4 171.1,1027 216.7,1023.9 353.3,1019.4"/>
<polyline class="ls s2" points="80,1036.1 91.4,1039.1 102.8,1036.9 125.6,1028.5 148.3,1024.7 171.1,1027 216.7,1024.7 353.3,1019.4"/>
<polyline class="ls s1" points="80,1036.1 91.4,1040.7 102.8,1037.6 125.6,1042.9 148.3,1036.9 171.1,1041.4 216.7,1041.4 353.3,1043.7"/>
<g fill="#f08078"><use href="#mv" x="91.4" y="1028.5"/><use href="#mv" x="125.6" y="1027"/><use href="#mv" x="148.3" y="1027"/><use href="#mv" x="171.1" y="1020.9"/><use href="#mv" x="353.3" y="1023.9"/></g>
<g fill="#f9c84a"><use href="#mt" x="125.6" y="1016.3"/><use href="#mt" x="148.3" y="1025.4"/><use href="#mt" x="216.7" y="1023.9"/></g>
<g fill="#168a80"><use href="#ms" x="102.8" y="1036.9"/><use href="#ms" x="125.6" y="1028.5"/><use href="#ms" x="148.3" y="1024.7"/><use href="#ms" x="171.1" y="1027"/><use href="#ms" x="216.7" y="1024.7"/><use href="#ms" x="353.3" y="1019.4"/></g>
<g fill="#3d87cc"><use href="#ms" x="80" y="1036.1"/><use href="#mc" x="91.4" y="1040.7"/><use href="#ms" x="102.8" y="1037.6"/><use href="#mc" x="125.6" y="1042.9"/><use href="#mc" x="148.3" y="1036.9"/><use href="#mc" x="171.1" y="1041.4"/><use href="#mc" x="216.7" y="1041.4"/><use href="#mc" x="353.3" y="1043.7"/></g>

<!-- ================= PANEL G ================= -->
<text x="410" y="980" class="b" font-size="20">G</text>
<text x="588.3" y="988" class="b" font-size="17" text-anchor="middle">NaCl</text>
<path d="M462.7,1005.7 V1187.3 H736" class="ax"/>
<path d="M457.2,1005.7H462.7M457.2,1036H462.7M457.2,1066.3H462.7M457.2,1096.5H462.7M457.2,1126.7H462.7M457.2,1157H462.7M457.2,1187.3H462.7M462.7,1187.3V1192.8M531,1187.3V1192.8M599.4,1187.3V1192.8M667.7,1187.3V1192.8M736,1187.3V1192.8" class="tk"/>
<g class="b" font-size="13.5" text-anchor="end"><text x="455" y="1010.4">1.2</text><text x="455" y="1040.7">1.0</text><text x="455" y="1071">0.8</text><text x="455" y="1101.2">0.6</text><text x="455" y="1131.4">0.4</text><text x="455" y="1161.7">0.2</text><text x="455" y="1192">0.0</text></g>
<g class="b" font-size="13.5" text-anchor="middle"><text x="462.7" y="1212">0</text><text x="531" y="1212">6</text><text x="599.4" y="1212">12</text><text x="667.7" y="1212">18</text><text x="736" y="1212">24</text></g>
<text x="600" y="1236.5" class="b" font-size="14.5" text-anchor="middle">Time (h)</text>
<text transform="translate(423.5,1096.7) rotate(-90)" class="b" font-size="14.5" text-anchor="middle">Ratio of diameter</text>
<path class="e s3" d="M485.5,1026.5V1042.5M482.5,1026.5h6M508.2,1022.4V1034.4M505.2,1022.4h6M531,1024V1036"/>
<path class="e s4" d="M736,1040.6V1052.6M733,1052.6h6M485.5,1016.9V1024.9"/>
<path class="e s1" d="M474.1,1033V1045M471.1,1045h6M485.5,1035.6V1051.6M482.5,1051.6h6M531,1028.5V1040.5M528,1040.5h6M599.4,1031.8V1047.8M596.4,1031.8h6M596.4,1047.8h6"/>
<polyline class="ls s4" points="462.7,1036 474.1,1026.9 485.5,1020.9 508.2,1030 531,1030 553.8,1033 599.4,1037.5 736,1046.6"/>
<polyline class="ls s3" points="462.7,1036 474.1,1037.5 485.5,1034.5 508.2,1028.4 531,1030 553.8,1033 599.4,1036 736,1034.5"/>
<polyline class="ls s2" points="462.7,1036 474.1,1037.5 485.5,1040.5 508.2,1041.3 531,1034.5 553.8,1034.5 599.4,1039 736,1041.3"/>
<polyline class="ls s1" points="462.7,1036 474.1,1039 485.5,1043.6 508.2,1033 531,1034.5 553.8,1032.2 599.4,1039.8 736,1032.2"/>
<g fill="#f08078"><use href="#mv" x="474.1" y="1026.9"/><use href="#mv" x="485.5" y="1020.9"/><use href="#mv" x="508.2" y="1030"/><use href="#mv" x="736" y="1046.6"/></g>
<g fill="#f9c84a"><use href="#mt" x="508.2" y="1028.4"/><use href="#mt" x="531" y="1030"/></g>
<g fill="#168a80"><use href="#ms" x="474.1" y="1037.5"/><use href="#ms" x="485.5" y="1040.5"/><use href="#ms" x="508.2" y="1041.3"/><use href="#ms" x="553.8" y="1034.5"/><use href="#ms" x="599.4" y="1039"/><use href="#ms" x="736" y="1041.3"/></g>
<g fill="#3d87cc"><use href="#ms" x="462.7" y="1036"/><use href="#mc" x="474.1" y="1039"/><use href="#ms" x="485.5" y="1043.6"/><use href="#mc" x="508.2" y="1033"/><use href="#mc" x="531" y="1034.5"/><use href="#mc" x="553.8" y="1032.2"/><use href="#mc" x="599.4" y="1039.8"/><use href="#mc" x="736" y="1032.2"/></g>

<!-- ================= PANEL H ================= -->
<text x="773" y="980" class="b" font-size="20">H</text>
<text x="971.7" y="988" class="b" font-size="17" text-anchor="middle">TritonX-100</text>
<path d="M832.7,1005.7 V1187.3 H1105" class="ax"/>
<path d="M827.2,1005.7H832.7M827.2,1042H832.7M827.2,1078.3H832.7M827.2,1114.7H832.7M827.2,1151H832.7M827.2,1187.3H832.7M832.7,1187.3V1192.8M887.2,1187.3V1192.8M941.6,1187.3V1192.8M996.1,1187.3V1192.8M1050.5,1187.3V1192.8M1105,1187.3V1192.8" class="tk"/>
<g class="b" font-size="13.5" text-anchor="end"><text x="826" y="1010.4">1.0</text><text x="826" y="1046.7">0.8</text><text x="826" y="1083">0.6</text><text x="826" y="1119.4">0.4</text><text x="826" y="1155.7">0.2</text><text x="826" y="1192">0.0</text></g>
<g class="b" font-size="13.5" text-anchor="middle"><text x="832.7" y="1211">0.0</text><text x="887.2" y="1211">0.2</text><text x="941.6" y="1211">0.4</text><text x="996.1" y="1211">0.6</text><text x="1050.5" y="1211">0.8</text><text x="1105" y="1211">1.0</text></g>
<text x="969.3" y="1236.5" class="b" font-size="14.5" text-anchor="middle">Time (h)</text>
<text transform="translate(792.5,1095) rotate(-90)" class="b" font-size="14.5" text-anchor="middle">PDI</text>
<polyline class="ls s3" points="832.7,1152.8 857,1016 1105,1005.7"/>
<polyline class="ls s4" points="832.7,1147.3 855.3,1015.7 1105,1005.7"/>
<polyline class="ls s2" points="832.7,1156.4 855.3,1023.9 1105,1012.1"/>
<polyline class="ls s1" points="832.7,1151 855.3,1011.2 1105,1005.7"/>
<path class="e s3" d="M857,1016V1053.3M854,1053.3h6"/>
<path class="e s2" d="M855.3,1023.9V1045.7M852.3,1045.7h6M1105,1003V1021M1102,1021h6"/>
<path class="e s4" d="M855.3,1008V1015M852.3,1008h6"/>
<g fill="#f08078"><use href="#mv" x="832.7" y="1147.3"/><use href="#mv" x="855.3" y="1015.7"/></g>
<g fill="#168a80"><use href="#ms" x="832.7" y="1156.4"/><use href="#ms" x="855.3" y="1023.9"/><use href="#ms" x="1105" y="1012.1"/></g>
<g fill="#3d87cc"><use href="#mc" x="832.7" y="1151"/><use href="#mc" x="855.3" y="1011.2"/><use href="#mc" x="1105" y="1005.7"/></g>
<path class="ls s1" d="M1116,1008.3H1136"/><use href="#mc" x="1126" y="1008.3" fill="#3d87cc"/>
<path class="ls s2" d="M1116,1033.3H1136"/><use href="#ms" x="1126" y="1033.3" fill="#168a80"/>
<path class="ls s3" d="M1116,1059H1136"/><use href="#mt" x="1126" y="1059" fill="#f9c84a"/>
<path class="ls s4" d="M1116,1084H1136"/><use href="#mv" x="1126" y="1084" fill="#f08078"/>
<g class="b" font-size="14" text-anchor="end"><text x="1208.3" y="1013.3">10% NPs</text><text x="1208.3" y="1038.3">20% NPs</text><text x="1208.3" y="1064">40% NPs</text><text x="1208.3" y="1089">60% NPs</text></g>
</svg>
</body></html>
